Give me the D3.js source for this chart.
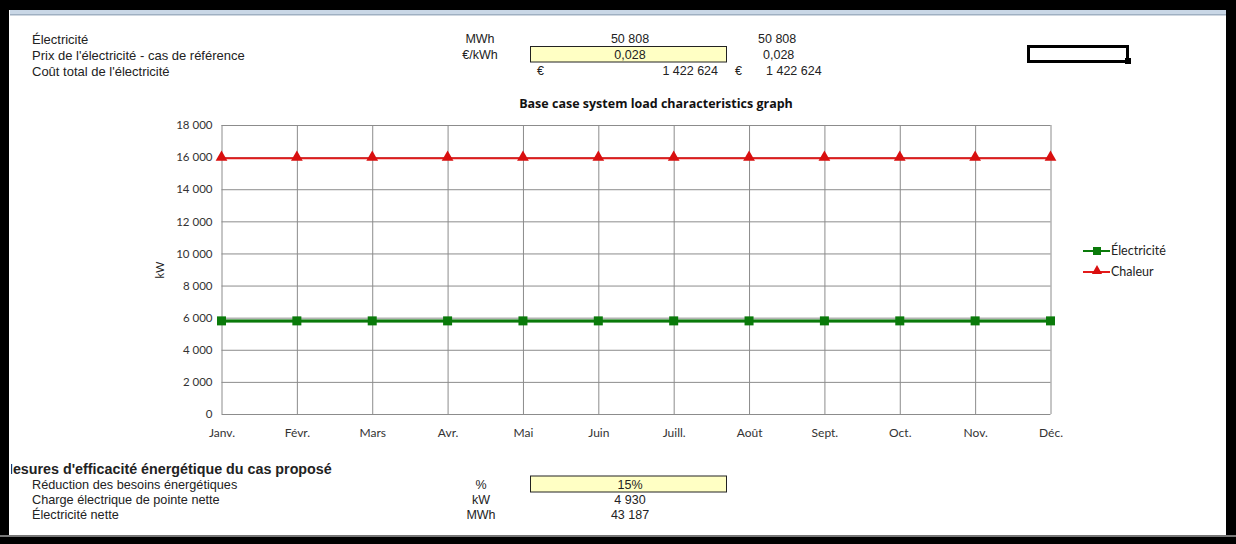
<!DOCTYPE html>
<html>
<head>
<meta charset="utf-8">
<script src="https://cdn.jsdelivr.net/npm/d3@7"></script>
<style>
  html, body { margin: 0; padding: 0; background: #fff; }
  svg { display: block; }
</style>
</head>
<body>
<svg id="sheet" width="1236" height="544"></svg>
<script>
// Monthly load profile of the base case (kW)
const months = ["Janv.", "Févr.", "Mars", "Avr.", "Mai", "Juin", "Juill.", "Août", "Sept.", "Oct.", "Nov.", "Déc."];
const electricite = [5800, 5800, 5800, 5800, 5800, 5800, 5800, 5800, 5800, 5800, 5800, 5800];
const chaleur = [15930, 15930, 15930, 15930, 15930, 15930, 15930, 15930, 15930, 15930, 15930, 15930];
const yTicks = [0, 2000, 4000, 6000, 8000, 10000, 12000, 14000, 16000, 18000];
const seriesNames = ["Électricité", "Chaleur"];

// Spreadsheet rows above and below the graph
const topRows = [
  { label: "Électricité", unit: "MWh", value: "50 808", copy: "50 808" },
  { label: "Prix de l'électricité - cas de référence", unit: "€/kWh", value: "0,028", copy: "0,028", input: true },
  { label: "Coût total de l'électricité", unit: "", value: "1 422 624", copy: "1 422 624", currency: true }
];
const bottomTitle = "Mesures d'efficacité énergétique du cas proposé";
const bottomRows = [
  { label: "Réduction des besoins énergétiques", unit: "%", value: "15%", input: true },
  { label: "Charge électrique de pointe nette", unit: "kW", value: "4 930" },
  { label: "Électricité nette", unit: "MWh", value: "43 187" }
];

const svg = d3.select("#sheet");
const cellFont = "'Liberation Sans', Arial, sans-serif";
const chartFont = "Lato, 'Open Sans', sans-serif";
const textCol = "#222";

// ---- sheet cells (top) ----
const topY = [39, 55, 71];
const headCells = svg.append("g").attr("font-family", cellFont).attr("font-size", 12.5).attr("fill", textCol);
topRows.forEach((r, i) => {
  const yy = topY[i];
  if (r.input) {
    headCells.append("rect").attr("x", 530.5).attr("y", yy - 8.5).attr("width", 196).attr("height", 15.5)
      .attr("fill", "#ffffc4").attr("stroke", "#222").attr("stroke-width", 1);
  }
  headCells.append("text").attr("x", 32).attr("y", yy).attr("dy", "0.35em").attr("font-size", 13).text(r.label);
  if (r.unit) headCells.append("text").attr("x", 480).attr("y", yy).attr("dy", "0.35em").attr("text-anchor", "middle").text(r.unit);
  if (r.currency) {
    headCells.append("text").attr("x", 537).attr("y", yy).attr("dy", "0.35em").text("€");
    headCells.append("text").attr("x", 718).attr("y", yy).attr("dy", "0.35em").attr("text-anchor", "end").text(r.value);
    headCells.append("text").attr("x", 735).attr("y", yy).attr("dy", "0.35em").text("€");
    headCells.append("text").attr("x", 766).attr("y", yy).attr("dy", "0.35em").text(r.copy);
  } else {
    headCells.append("text").attr("x", 630).attr("y", yy).attr("dy", "0.35em").attr("text-anchor", "middle").text(r.value);
    headCells.append("text").attr("x", r.input ? 763 : 758).attr("y", yy).attr("dy", "0.35em").text(r.copy);
  }
});

// selected cell outline
svg.append("rect").attr("x", 1028.5).attr("y", 46.5).attr("width", 99).attr("height", 15)
  .attr("fill", "none").attr("stroke", "#000").attr("stroke-width", 3);
svg.append("rect").attr("x", 1125).attr("y", 58).attr("width", 6).attr("height", 6).attr("fill", "#000");

// ---- chart ----
const plot = { left: 221.5, right: 1050.5, top: 125, bottom: 414 };
const x = d3.scalePoint().domain(months).range([plot.left, plot.right]);
const y = d3.scaleLinear().domain([0, 18000]).range([plot.bottom, plot.top]);
const fmt = v => d3.format(",")(v).replace(/,/g, " ");

const chart = svg.append("g").attr("font-family", chartFont);

chart.append("text").attr("x", 656).attr("y", 104).attr("dy", "0.35em").attr("text-anchor", "middle")
  .attr("font-family", "'Open Sans', Lato, sans-serif")
  .attr("font-size", 12.5).attr("font-weight", "bold").attr("fill", "#111")
  .text("Base case system load characteristics graph");

// horizontal gridlines + y labels
const yAxis = d3.axisLeft(y).tickValues(yTicks).tickSize(-(plot.right - plot.left)).tickFormat(fmt).tickPadding(9);
const gy = chart.append("g").attr("transform", `translate(${plot.left},0)`).call(yAxis);
gy.select(".domain").remove();
gy.selectAll(".tick line").attr("stroke", "#8c8c8c").attr("stroke-width", 1);
gy.selectAll(".tick text").attr("font-family", chartFont).attr("font-size", 11.5).attr("fill", "#333");

// vertical gridlines + month labels
const xAxis = d3.axisBottom(x).tickSize(-(plot.bottom - plot.top)).tickPadding(14);
const gx = chart.append("g").attr("transform", `translate(0,${plot.bottom})`).call(xAxis);
gx.select(".domain").remove();
gx.selectAll(".tick line").attr("stroke", "#8c8c8c").attr("stroke-width", 1);
gx.selectAll(".tick text").attr("font-family", chartFont).attr("font-size", 12).attr("fill", "#333");

// y axis title
chart.append("text").attr("transform", "translate(160,270) rotate(-90)").attr("text-anchor", "middle")
  .attr("dy", "0.35em").attr("font-size", 11).attr("fill", "#222").text("kW");

// series lines
const line = d3.line().x((d, i) => x(months[i])).y(d => y(d));
chart.append("path").datum(chaleur).attr("d", line).attr("fill", "none").attr("stroke", "#e31b1b").attr("stroke-width", 2);
chart.append("path").datum(electricite).attr("d", line).attr("fill", "none").attr("stroke", "#8fbf8f").attr("stroke-width", 4);
chart.append("path").datum(electricite).attr("d", line).attr("fill", "none").attr("stroke", "#0a7a0a").attr("stroke-width", 2.5);

// markers
const tri = d3.symbol().type(d3.symbolTriangle).size(60);
chart.append("g").selectAll("path").data(chaleur).join("path")
  .attr("d", tri).attr("transform", (d, i) => `translate(${x(months[i])},${y(d) - 1})`).attr("fill", "#d90f0f");
chart.append("g").selectAll("rect").data(electricite).join("rect")
  .attr("x", (d, i) => x(months[i]) - 4.5).attr("y", d => y(d) - 4.5).attr("width", 9).attr("height", 9).attr("fill", "#0a7a0a");

// legend
const legend = chart.append("g").attr("font-size", 12.5).attr("fill", "#222");
const legendY = [251, 272];
// electricity entry
legend.append("line").attr("x1", 1083).attr("x2", 1110).attr("y1", legendY[0]).attr("y2", legendY[0]).attr("stroke", "#0a7a0a").attr("stroke-width", 2);
legend.append("rect").attr("x", 1093).attr("y", legendY[0] - 4).attr("width", 8).attr("height", 8).attr("fill", "#0a7a0a");
legend.append("text").attr("x", 1111).attr("y", legendY[0]).attr("dy", "0.35em").text(seriesNames[0]);
// heat entry
legend.append("line").attr("x1", 1083).attr("x2", 1110).attr("y1", legendY[1]).attr("y2", legendY[1]).attr("stroke", "#e31b1b").attr("stroke-width", 2);
legend.append("path").attr("d", d3.symbol().type(d3.symbolTriangle).size(45)).attr("transform", `translate(1097,${legendY[1] - 1})`).attr("fill", "#d90f0f");
legend.append("text").attr("x", 1111).attr("y", legendY[1]).attr("dy", "0.35em").text(seriesNames[1]);

// ---- sheet cells (bottom) ----
const footCells = svg.append("g").attr("font-family", cellFont).attr("fill", textCol);
svg.append("clipPath").attr("id", "cellclip").append("rect").attr("x", 11).attr("y", 455).attr("width", 500).attr("height", 30);
footCells.append("text").attr("x", 1).attr("y", 469).attr("dy", "0.35em").attr("font-size", 14.3)
  .attr("font-weight", "bold").attr("clip-path", "url(#cellclip)").text(bottomTitle);
const botY = [485, 500, 515];
bottomRows.forEach((r, i) => {
  const yy = botY[i];
  if (r.input) {
    footCells.append("rect").attr("x", 530.5).attr("y", yy - 9).attr("width", 196).attr("height", 16)
      .attr("fill", "#ffffc4").attr("stroke", "#222").attr("stroke-width", 1);
  }
  footCells.append("text").attr("x", 32).attr("y", yy).attr("dy", "0.35em").attr("font-size", 12.7).text(r.label);
  footCells.append("text").attr("x", 481).attr("y", yy).attr("dy", "0.35em").attr("font-size", 12.5).attr("text-anchor", "middle").text(r.unit);
  footCells.append("text").attr("x", 630).attr("y", yy).attr("dy", "0.35em").attr("font-size", 12.5).attr("text-anchor", "middle").text(r.value);
});

// ---- window frame ----
const frame = svg.append("g");
frame.append("rect").attr("x", 10).attr("y", 10).attr("width", 1216).attr("height", 5).attr("fill", "#c9d7e6");
frame.append("rect").attr("x", 10).attr("y", 14).attr("width", 1216).attr("height", 1.5).attr("fill", "#9fb0c2");
frame.append("rect").attr("x", 0).attr("y", 0).attr("width", 1236).attr("height", 10).attr("fill", "#000");
frame.append("rect").attr("x", 0).attr("y", 0).attr("width", 9).attr("height", 544).attr("fill", "#000");
frame.append("rect").attr("x", 1226).attr("y", 0).attr("width", 10).attr("height", 544).attr("fill", "#000");
frame.append("rect").attr("x", 0).attr("y", 535).attr("width", 1236).attr("height", 2).attr("fill", "#777");
frame.append("rect").attr("x", 0).attr("y", 537).attr("width", 1236).attr("height", 7).attr("fill", "#000");
</script>
</body>
</html>
